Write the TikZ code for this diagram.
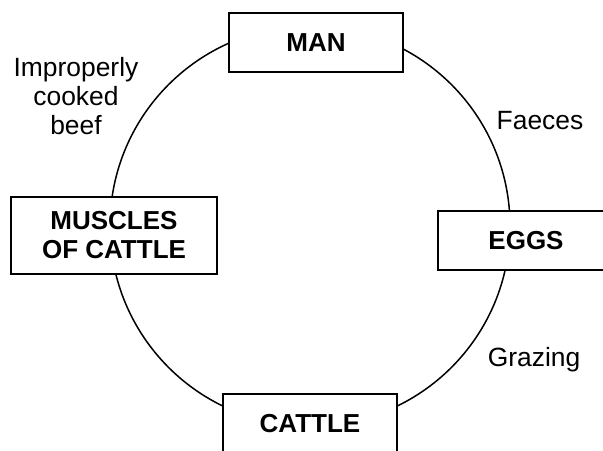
\documentclass[tikz,border=0pt]{standalone}
\usepackage{fontspec}
\setmainfont{Liberation Sans}
\usepackage{tikz}

\tikzset{
  stagebox/.style = {draw, line width = .9pt, fill = white, align = center,
    inner sep = 0pt, font = \fontsize{13}{14.5}\selectfont\bfseries},
  routelabel/.style = {align = center, inner sep = 0pt,
    font = \fontsize{13.2}{14.5}\selectfont}
}

\begin{document}
\begin{tikzpicture}[x = .5pt, y = -.5pt]
\clip (0,0) rectangle (603,450);
\begin{scope}
\coordinate (hub) at (310,226);
\draw[line width = .75pt] (hub) circle [radius = 100pt];
\node[stagebox, minimum width = 87pt, minimum height = 29.5pt] (man) at (316,42.5) {MAN};
\node[stagebox, minimum width = 88pt, minimum height = 29.5pt] (eggs) at (526,240.5) {EGGS};
\node[stagebox, minimum width = 87pt, minimum height = 29.5pt] (cattle) at (310,423.5) {CATTLE};
\node[stagebox, minimum width = 103pt, minimum height = 38.5pt] (muscles) at (114,235.5) {MUSCLES\\OF CATTLE};
\node[routelabel] (faeces) at (540,121) {Faeces};
\node[routelabel] (grazing) at (534,360) {Grazing};
\node[routelabel] (beef) at (76,96) {Improperly\\cooked\\beef};
\end{scope}
\end{tikzpicture}
\end{document}
